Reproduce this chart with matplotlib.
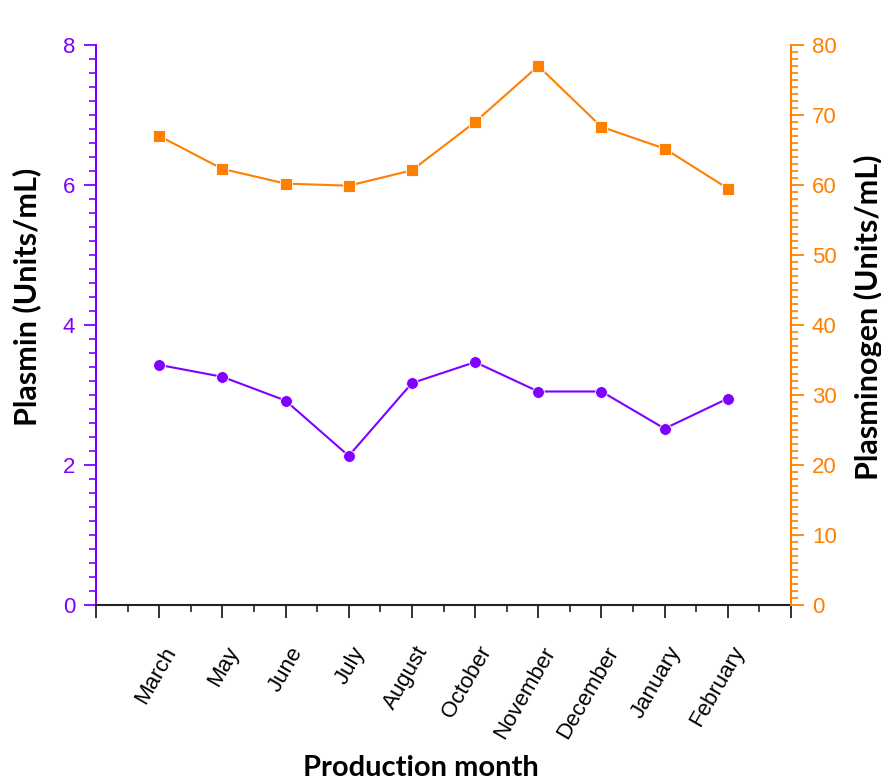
import matplotlib
matplotlib.use("Agg")
import matplotlib.pyplot as plt
import matplotlib.transforms as mtransforms
from matplotlib.ticker import MultipleLocator

# Monthly plasmin / plasminogen activity
months = ['March', 'May', 'June', 'July', 'August', 'October',
          'November', 'December', 'January', 'February']
plasmin = [3.43, 3.26, 2.92, 2.13, 3.17, 3.47, 3.05, 3.05, 2.52, 2.95]
plasminogen = [67.0, 62.3, 60.2, 59.9, 62.1, 69.0, 77.0, 68.3, 65.2, 59.5]

purple = '#7F00FF'
orange = '#FF7F00'
tick_font = 'Liberation Sans'

fig = plt.figure(figsize=(8.81, 7.84), dpi=100)
ax1 = fig.add_axes([96/881, 1 - 605/784, (791 - 96)/881, (605 - 45)/784])
ax2 = ax1.twinx()

x = list(range(1, len(months) + 1))
ax1.plot(x, plasmin, color=purple, lw=1.5, marker='o', ms=8.5,
         mec='white', mew=0.6, zorder=3)
ax2.plot(x, plasminogen, color=orange, lw=1.5, marker='s', ms=8,
         mec='white', mew=0.6, zorder=3)

ax1.set_xlim(0, 11)
ax1.set_ylim(0, 8)
ax2.set_ylim(0, 80)

ax1.xaxis.set_minor_locator(MultipleLocator(0.5))
ax1.yaxis.set_major_locator(MultipleLocator(2))
ax1.yaxis.set_minor_locator(MultipleLocator(0.2))
ax2.yaxis.set_major_locator(MultipleLocator(10))
ax2.yaxis.set_minor_locator(MultipleLocator(1))

for ax in (ax1, ax2):
    ax.spines['top'].set_visible(False)
ax1.spines['right'].set_visible(False)
ax1.spines['left'].set_color(purple)
ax1.spines['left'].set_linewidth(1.5)
ax2.spines['right'].set_color(orange)
ax2.spines['right'].set_linewidth(1.5)
ax2.spines['left'].set_visible(False)
ax2.spines['bottom'].set_visible(False)
ax1.spines['bottom'].set_color('#222222')
ax1.spines['bottom'].set_linewidth(1.5)

ax1.tick_params(axis='y', which='major', colors=purple, length=9, width=1.3,
                labelsize=16, pad=6)
ax1.tick_params(axis='y', which='minor', colors=purple, length=5, width=1.2)
ax2.tick_params(axis='y', which='major', colors=orange, length=9, width=1.3,
                labelsize=16, pad=6)
ax2.tick_params(axis='y', which='minor', colors=orange, length=5, width=1.2)
ax1.tick_params(axis='x', which='major', color='#222222', length=9, width=1.3,
                pad=22)
ax1.tick_params(axis='x', which='minor', color='#222222', length=5, width=1.2)

# month names sit on the integer ticks; 0 and 11 stay unlabeled
ax1.set_xticks(range(0, 12))
ax1.set_xticklabels([''] + months + [''], rotation=60, ha='right', va='center',
                    rotation_mode='anchor', fontsize=16, family=tick_font)
shift = mtransforms.ScaledTranslation(12/100, 0, fig.dpi_scale_trans)
for lbl in ax1.get_xticklabels():
    lbl.set_transform(lbl.get_transform() + shift)
for lbl in ax1.get_yticklabels() + ax2.get_yticklabels():
    lbl.set_fontfamily(tick_font)

fig.text(421/881, 1 - 768/784, 'Production month', ha='center', va='center',
         family='Lato', weight='bold', size=21)
fig.text(27/881, 1 - 297/784, 'Plasmin (Units/mL)', rotation=90,
         ha='center', va='center', family='Lato', weight='bold', size=22)
fig.text(868/881, 1 - 317/784, 'Plasminogen (Units/mL)', rotation=90,
         ha='center', va='center', family='Lato', weight='bold', size=22)

fig.savefig('out.png', dpi=100)
